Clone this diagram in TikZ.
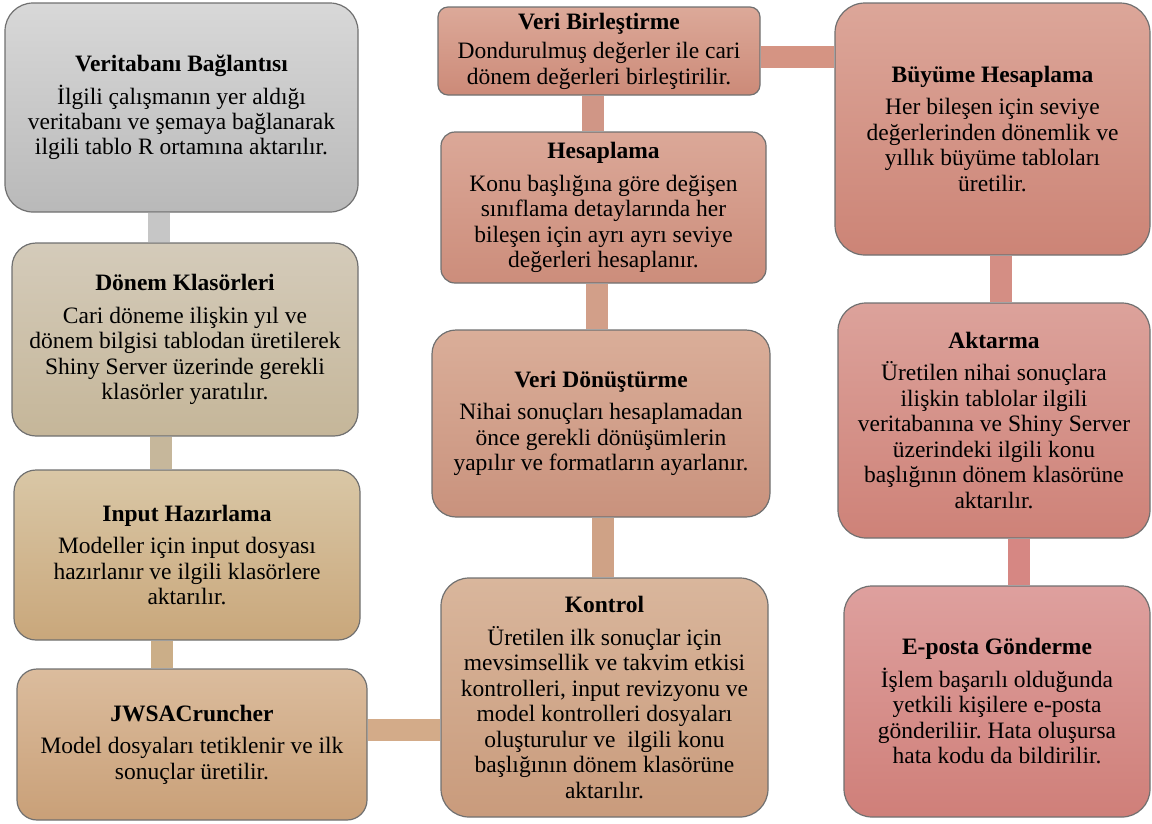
\documentclass[tikz,border=0pt]{standalone}
\usepackage{fontspec}
\setmainfont{Liberation Serif}
\usetikzlibrary{backgrounds}
\frenchspacing
\definecolor{boxline}{HTML}{707070}
\definecolor{vtTop}{HTML}{D8D8D8}\definecolor{vtBot}{HTML}{B9B9B9}
\definecolor{dkTop}{HTML}{D4CBBA}\definecolor{dkBot}{HTML}{C5B699}
\definecolor{ihTop}{HTML}{D9C7A6}\definecolor{ihBot}{HTML}{C9A77B}
\definecolor{jwTop}{HTML}{DBBC9D}\definecolor{jwBot}{HTML}{C9A078}
\definecolor{ktTop}{HTML}{D9B69C}\definecolor{ktBot}{HTML}{C99B7C}
\definecolor{vdTop}{HTML}{DAAE99}\definecolor{vdBot}{HTML}{C9927D}
\definecolor{hsTop}{HTML}{DBA898}\definecolor{hsBot}{HTML}{CC8D7B}
\definecolor{vbTop}{HTML}{DCA999}\definecolor{vbBot}{HTML}{CC8A78}
\definecolor{bhTop}{HTML}{DCA699}\definecolor{bhBot}{HTML}{CC8476}
\definecolor{akTop}{HTML}{DCA29B}\definecolor{akBot}{HTML}{CE8278}
\definecolor{epTop}{HTML}{DEA09E}\definecolor{epBot}{HTML}{CF7F79}
\newcommand{\baslik}[1]{\textbf{#1}\\[7pt]}
\begin{document}
\begin{tikzpicture}[x=1pt, y=-1pt,
    stepbox/.style={draw=boxline, line width=1.2pt, align=center, inner sep=0pt,
        font=\fontsize{23.5}{25.5}\selectfont},
    link/.style={line width=22pt}]
    \useasboundingbox (0,0) rectangle (1152,823);
    % sol sutun
    \node[stepbox, top color=vtTop, bottom color=vtBot, rounded corners=28pt,
        minimum width=353pt, minimum height=209pt] (vt) at (181.5,107.5)
        {\baslik{Veritabanı Bağlantısı}İlgili çalışmanın yer aldığı\\veritabanı ve şemaya bağlanarak\\ilgili tablo R ortamına aktarılır.};
    \node[stepbox, top color=dkTop, bottom color=dkBot, rounded corners=24pt,
        minimum width=346pt, minimum height=193pt] (dk) at (185,339.5)
        {\baslik{Dönem Klasörleri}Cari döneme ilişkin yıl ve\\dönem bilgisi tablodan üretilerek\\Shiny Server üzerinde gerekli\\klasörler yaratılır.};
    \node[stepbox, top color=ihTop, bottom color=ihBot, rounded corners=22pt,
        minimum width=346pt, minimum height=170pt] (ih) at (187,555)
        {\baslik{Input Hazırlama}Modeller için input dosyası\\hazırlanır ve ilgili klasörlere\\aktarılır.};
    \node[stepbox, top color=jwTop, bottom color=jwBot, rounded corners=20pt,
        minimum width=350pt, minimum height=151pt] (jw) at (192,744.5)
        {\baslik{JWSACruncher}Model dosyaları tetiklenir ve ilk\\sonuçlar üretilir.};
    % orta sutun
    \node[stepbox, top color=ktTop, bottom color=ktBot, rounded corners=28pt,
        minimum width=327pt, minimum height=239pt] (kt) at (604.5,697.5)
        {\baslik{Kontrol}Üretilen ilk sonuçlar için\\mevsimsellik ve takvim etkisi\\kontrolleri, input revizyonu ve\\model kontrolleri dosyaları\\oluşturulur ve\ \ ilgili konu\\başlığının dönem klasörüne\\aktarılır.};
    \node[stepbox, top color=vdTop, bottom color=vdBot, rounded corners=24pt,
        minimum width=338pt, minimum height=187pt] (vd) at (601,423.5)
        {\baslik{Veri Dönüştürme}Nihai sonuçları hesaplamadan\\önce gerekli dönüşümlerin\\yapılır ve formatların ayarlanır.};
    \node[stepbox, top color=hsTop, bottom color=hsBot, rounded corners=14pt,
        minimum width=325pt, minimum height=151pt] (hs) at (603.5,207.5)
        {\baslik{Hesaplama}Konu başlığına göre değişen\\sınıflama detaylarında her\\bileşen için ayrı ayrı seviye\\değerleri hesaplanır.};
    \node[stepbox, top color=vbTop, bottom color=vbBot, rounded corners=10pt,
        minimum width=322pt, minimum height=88pt] (vb) at (599,51)
        {\textbf{Veri Birleştirme}\\[4pt]Dondurulmuş değerler ile cari\\dönem değerleri birleştirilir.};
    % sag sutun
    \node[stepbox, top color=bhTop, bottom color=bhBot, rounded corners=30pt,
        minimum width=315pt, minimum height=252pt] (bh) at (992.5,129)
        {\baslik{Büyüme Hesaplama}Her bileşen için seviye\\değerlerinden dönemlik ve\\yıllık büyüme tabloları\\üretilir.};
    \node[stepbox, top color=akTop, bottom color=akBot, rounded corners=28pt,
        minimum width=312pt, minimum height=235pt] (ak) at (994,420.5)
        {\baslik{Aktarma}Üretilen nihai sonuçlara\\ilişkin tablolar ilgili\\veritabanına ve Shiny Server\\üzerindeki ilgili konu\\başlığının dönem klasörüne\\aktarılır.};
    \node[stepbox, top color=epTop, bottom color=epBot, rounded corners=28pt,
        minimum width=306pt, minimum height=231pt] (ep) at (997,701.5)
        {\baslik{E-posta Gönderme}İşlem başarılı olduğunda\\yetkili kişilere e-posta\\gönderiliir. Hata oluşursa\\hata kodu da bildirilir.};
    % baglantilar
    \begin{scope}[on background layer]
        \draw[link, draw={rgb,255:red,198;green,198;blue,198}] ([xshift=-22.5pt]vt.south) -- ([xshift=-22.5pt]vt.south |- dk.north);
        \draw[link, draw={rgb,255:red,198;green,183;blue,155}] ([xshift=-24pt]dk.south) -- ([xshift=-24pt]dk.south |- ih.north);
        \draw[link, draw={rgb,255:red,203;green,174;blue,136}] ([xshift=-25pt]ih.south) -- ([xshift=-25pt]ih.south |- jw.north);
        \draw[link, draw={rgb,255:red,211;green,171;blue,137}] ([yshift=14.5pt]jw.east) -- ([yshift=14.5pt]jw.east -| kt.west);
        \draw[link, draw={rgb,255:red,207;green,162;blue,134}] ([xshift=-1.5pt]kt.north) -- ([xshift=-1.5pt]kt.north |- vd.south);
        \draw[link, draw={rgb,255:red,210;green,159;blue,137}] ([xshift=-4pt]vd.north) -- ([xshift=-4pt]vd.north |- hs.south);
        \draw[link, draw={rgb,255:red,208;green,150;blue,134}] ([xshift=-10.5pt]hs.north) -- ([xshift=-10.5pt]hs.north |- vb.south);
        \draw[link, draw={rgb,255:red,213;green,148;blue,131}] ([yshift=-6pt]vb.east) -- ([yshift=-6pt]vb.east -| bh.west);
        \draw[link, draw={rgb,255:red,212;green,142;blue,132}] ([xshift=8.5pt]bh.south) -- ([xshift=8.5pt]bh.south |- ak.north);
        \draw[link, draw={rgb,255:red,214;green,135;blue,131}] ([xshift=25pt]ak.south) -- ([xshift=25pt]ak.south |- ep.north);
    \end{scope}
\end{tikzpicture}
\end{document}
